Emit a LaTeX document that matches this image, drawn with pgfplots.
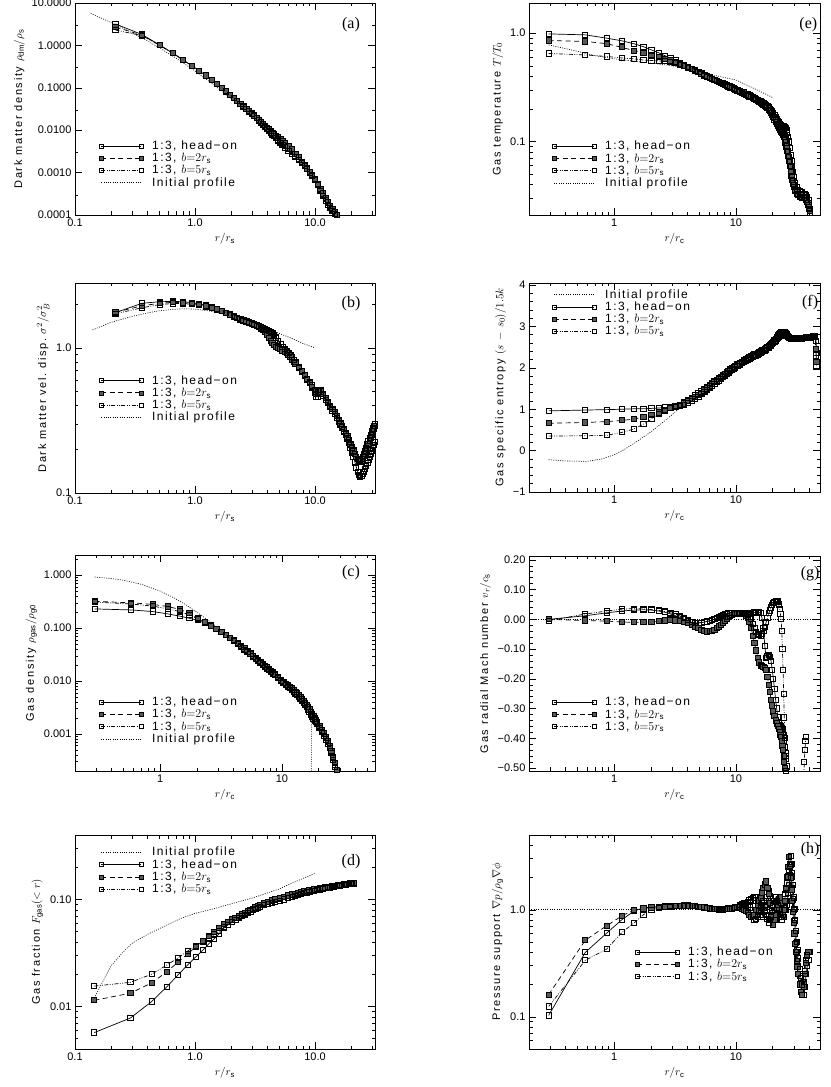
\documentclass[border=0pt]{standalone}
\usepackage{fontspec}
\setmainfont{Liberation Sans}
\newfontfamily\labfam{Liberation Sans}[LetterSpace=15]
\newfontfamily\legfam{Liberation Sans}[LetterSpace=12]
\newfontfamily\serfam{Liberation Serif}
\usepackage{pgfplots}
\usepackage{pgfplotstable}
\pgfplotsset{compat=1.18}
\newcommand\tickfont{\fontsize{11}{13}\selectfont}
\newcommand\labfont{\labfam\fontsize{11}{13}\selectfont}
\newcommand\legfont{\legfam\fontsize{12}{14}\selectfont}
\newcommand\panfont{\serfam\fontsize{16}{19}\selectfont}

\pgfplotsset{
 every axis/.append style={scale only axis, anchor=south west, tick align=inside, tick pos=both,
   major tick length=7pt, minor tick length=3.5pt,
   tick style={black, line width=0.5pt}, axis line style={line width=0.6pt},
   tick label style={font=\tickfont}, label style={font=\labfont},
   unbounded coords=jump},
 every axis legend/.append style={draw=none, fill=none, font=\legfont, anchor=north west, row sep=-1.8pt, column sep=7pt, inner sep=0pt},
 legend cell align=left,
 legend image code/.code={\draw[mark repeat=1,mark phase=1,#1,mark size=2pt,every mark/.append style={line width=0.6pt}] plot coordinates {(0pt,0pt) (40pt,0pt)};},
 myleftx/.style={xmin=0.1, xmax=31.6, xtick={0.1,1,10}, xticklabels={0.1,1.0,10.0},
   minor xtick={0.2,0.3,0.4,0.5,0.6,0.7,0.8,0.9,2,3,4,5,6,7,8,9,20,30}, xlabel={$r/r_{\mathrm{s}}$}},
 myrightx/.style={xmin=0.2, xmax=49, xtick={1,10}, xticklabels={1,10},
   minor xtick={0.3,0.4,0.5,0.6,0.7,0.8,0.9,2,3,4,5,6,7,8,9,20,30,40}, xlabel={$r/r_{\mathrm{c}}$}},
 myho/.style={black, line width=0.7pt, solid, mark=square, mark size=2.6pt, mark options={solid, line width=1pt}},
 mybtwo/.style={myho, dash pattern=on 5pt off 3.5pt, mark=square*, mark options={solid, line width=1pt, fill=black!65, draw=black}},
 mybfive/.style={myho, dash pattern=on 4pt off 1.5pt on 0.8pt off 1.5pt on 0.8pt off 1.5pt, mark options={solid, line width=1pt, draw=black}},
 myini/.style={black, line width=0.6pt, dash pattern=on 1pt off 1.3pt, mark=none},
}

\pgfplotstableread{
r ho b2 b5
0.2175 3.2 2.7 2.3
0.3625 1.80 1.75 1.70
0.5075 1.02 1.01 1.00
0.6525 0.66 0.66 0.65
0.7975 0.45 0.45 0.45
0.9425 0.33 0.33 0.33
1.0875 0.25 0.25 0.25
1.2325 0.195 0.195 0.195
1.3775 0.155 0.155 0.155
1.5225 0.125 0.125 0.124
1.6675 0.101 0.101 0.100
1.8125 0.083 0.083 0.082
1.9575 0.069 0.069 0.068
2.1025 0.058 0.058 0.057
2.2475 0.049 0.049 0.048
2.3925 0.042 0.042 0.041
2.5375 0.037 0.037 0.036
2.6825 0.032 0.032 0.031
2.8275 0.028 0.028 0.0275
2.9725 0.025 0.025 0.0245
3.1175 0.022 0.0222 0.0216
3.2625 0.0195 0.0197 0.019
3.4075 0.0174 0.0177 0.0170
3.5525 0.0155 0.0158 0.0152
3.6975 0.0139 0.0142 0.0136
3.8425 0.0124 0.0127 0.0121
3.9875 0.0112 0.0115 0.0108
4.1325 0.0100 0.0104 0.0097
4.2775 0.0091 0.0095 0.0088
4.4225 0.0082 0.0087 0.0079
4.5675 0.0075 0.0080 0.0072
4.7125 0.0068 0.0074 0.0065
4.93 0.0060 0.0067 0.0057
5.1475 0.0053 0.0060 0.0050
5.365 0.0048 0.0055 0.0044
5.5825 0.0043 0.0050 0.0039
6.0175 0.0036 0.0042 0.0032
6.4525 0.0030 0.0035 0.0027
6.8875 0.0025 0.0028 0.0023
7.3225 0.0021 0.0023 0.0020
7.7575 0.0017 0.0018 0.00165
8.1925 0.00145 0.0015 0.0014
8.6275 0.00122 0.00125 0.0012
9.0625 0.00102 0.00105 0.0010
9.4975 0.00085 0.00088 0.00083
9.9325 0.00070 0.00072 0.00068
10.51 0.00052 0.00055 0.00050
11.09 0.00039 0.00041 0.00037
11.67 0.00030 0.00032 0.00028
12.25 0.00024 0.00025 0.00022
12.83 0.00019 0.00020 0.000175
13.41 0.000158 0.000165 0.000145
13.99 0.000132 0.000138 0.000122
14.57 0.000112 0.000117 0.000104
15.15 0.000095 0.000100 0.000088
15.73 0.000080 0.000085 0.000075
}\tabA

\pgfplotstableread{
r ho b2 b5
0.2175 1.75 1.76 1.72
0.3625 2.03 1.95 1.89
0.5075 2.08 2.03 1.99
0.6525 2.09 2.06 2.02
0.7975 2.08 2.05 2.02
0.9425 2.05 2.03 2.00
1.0875 2.01 2.00 1.97
1.2325 1.96 1.95 1.93
1.3775 1.91 1.90 1.89
1.5225 1.86 1.85 1.84
1.6675 1.80 1.80 1.79
1.8125 1.75 1.75 1.74
1.9575 1.70 1.70 1.69
2.1025 1.65 1.65 1.64
2.2475 1.61 1.61 1.60
2.3925 1.58 1.58 1.57
2.5375 1.55 1.55 1.54
2.6825 1.53 1.52 1.51
2.8275 1.50 1.49 1.48
2.9725 1.48 1.46 1.46
3.1175 1.45 1.43 1.44
3.2625 1.43 1.41 1.42
3.4075 1.41 1.39 1.40
3.5525 1.39 1.36 1.38
3.6975 1.37 1.32 1.36
3.8425 1.35 1.28 1.34
3.9875 1.33 1.22 1.32
4.1325 1.31 1.17 1.30
4.2775 1.28 1.12 1.28
4.4225 1.25 1.08 1.26
4.5675 1.21 1.05 1.22
4.7125 1.17 1.02 1.18
4.93 1.11 1.00 1.12
5.1475 1.06 0.98 1.07
5.365 1.01 0.96 1.02
5.5825 0.97 0.94 0.98
5.80 0.94 0.92 0.95
6.0175 0.91 0.89 0.92
6.235 0.88 0.86 0.89
6.4525 0.85 0.83 0.86
6.67 0.82 0.80 0.83
6.8875 0.79 0.78 0.80
7.3225 0.73 0.73 0.74
7.7575 0.68 0.69 0.69
8.1925 0.64 0.65 0.65
8.6275 0.60 0.61 0.61
9.0625 0.57 0.57 0.58
9.4975 0.53 0.54 0.55
9.9325 0.49 0.50 0.51
10.22 0.46 0.48 0.50
10.51 0.46 0.49 0.50
10.80 0.48 0.51 0.50
11.09 0.49 0.51 0.50
11.67 0.47 0.48 0.47
12.25 0.44 0.45 0.44
12.83 0.415 0.425 0.415
13.41 0.39 0.40 0.39
13.99 0.37 0.38 0.37
14.57 0.35 0.36 0.35
15.15 0.33 0.34 0.33
15.73 0.31 0.32 0.315
16.31 0.295 0.305 0.30
16.89 0.28 0.29 0.285
17.47 0.265 0.275 0.27
18.05 0.25 0.26 0.255
18.63 0.235 0.245 0.24
19.21 0.22 0.23 0.225
19.79 0.205 0.217 0.215
20.37 0.19 0.206 0.205
20.95 0.176 0.196 0.195
21.53 0.162 0.186 0.186
22.11 0.150 0.178 0.178
22.69 0.140 0.171 0.172
23.27 0.133 0.167 0.168
23.85 0.130 0.165 0.168
24.43 0.131 0.167 0.172
25.01 0.135 0.172 0.178
25.59 0.140 0.179 0.186
26.17 0.146 0.187 0.195
26.75 0.153 0.196 0.205
27.33 0.160 0.206 0.216
27.91 0.168 0.217 0.228
28.49 0.177 0.228 0.240
29.07 0.186 0.240 0.252
29.65 0.195 0.252 0.265
30.23 0.205 0.264 0.278
30.81 0.215 0.276 0.290
31.39 0.225 0.288 0.300
}\tabB

\pgfplotstableread{
r ho b2 b5
0.29 0.23 0.32 0.31
0.58 0.22 0.30 0.285
0.87 0.205 0.28 0.26
1.16 0.185 0.255 0.23
1.45 0.168 0.225 0.205
1.74 0.153 0.19 0.178
2.03 0.140 0.155 0.150
2.32 0.124 0.130 0.128
2.61 0.110 0.112 0.110
2.90 0.097 0.097 0.096
3.19 0.085 0.085 0.084
3.48 0.075 0.075 0.074
3.77 0.066 0.066 0.065
4.06 0.058 0.059 0.057
4.35 0.052 0.052 0.050
4.64 0.046 0.046 0.044
4.93 0.041 0.041 0.039
5.22 0.037 0.037 0.035
5.51 0.033 0.033 0.032
5.80 0.030 0.030 0.029
6.09 0.027 0.027 0.026
6.38 0.0245 0.025 0.024
6.67 0.0226 0.023 0.022
6.96 0.0208 0.021 0.020
7.25 0.0192 0.0195 0.0185
7.54 0.0178 0.018 0.017
7.83 0.0165 0.0167 0.0159
8.12 0.0153 0.0155 0.0148
8.41 0.0143 0.0145 0.0139
8.70 0.0134 0.0136 0.0130
9.28 0.0118 0.0120 0.0114
9.86 0.0103 0.0105 0.0100
10.30 0.0095 0.0097 0.0092
10.73 0.0087 0.0089 0.0085
11.17 0.0081 0.0083 0.0079
11.60 0.0075 0.0077 0.0073
12.03 0.0070 0.0072 0.0068
12.47 0.0065 0.0067 0.0063
12.90 0.0060 0.0062 0.0058
13.34 0.0056 0.0058 0.0054
13.78 0.0052 0.0054 0.0050
14.21 0.0048 0.0050 0.0046
14.65 0.0044 0.0046 0.0042
15.08 0.0040 0.0042 0.0039
15.52 0.0037 0.0038 0.0035
15.95 0.0034 0.0035 0.0032
16.38 0.0031 0.0032 0.0029
16.82 0.0028 0.0029 0.0026
17.26 0.0025 0.0026 0.0023
17.69 0.0023 0.0024 0.0021
18.13 0.0021 0.0022 0.0019
18.56 0.0019 0.0020 0.0018
19.00 0.00175 0.00184 0.00166
19.43 0.00160 0.00168 0.00152
20.30 0.00136 0.00142 0.00128
21.17 0.00116 0.00121 0.00109
22.04 0.00099 0.00103 0.00093
22.91 0.00084 0.00087 0.00079
23.78 0.00070 0.00073 0.00066
24.65 0.00058 0.00060 0.00054
25.52 0.00046 0.00048 0.00043
26.39 0.00035 0.00037 0.00032
27.26 0.00026 0.00028 0.00024
28.13 0.00019 0.00021 0.00017
29.00 0.00014 0.00015 0.00012
}\tabC

\pgfplotstableread{
r ho b2 b5
0.145 0.0057 0.0114 0.0155
0.29 0.0078 0.0133 0.0168
0.435 0.0111 0.0166 0.0200
0.58 0.0152 0.0210 0.0243
0.725 0.0198 0.0260 0.0285
0.87 0.0245 0.0310 0.0330
1.015 0.0290 0.0360 0.0370
1.16 0.0335 0.0410 0.0405
1.305 0.0385 0.0455 0.0440
1.45 0.0430 0.0500 0.0470
1.595 0.0480 0.0545 0.0505
1.74 0.0540 0.0590 0.0550
1.885 0.0580 0.0620 0.0580
2.03 0.0620 0.0650 0.0610
2.175 0.0650 0.0675 0.0640
2.32 0.0680 0.0700 0.0670
2.465 0.0710 0.0725 0.0695
2.61 0.0740 0.0750 0.0720
2.755 0.0765 0.0775 0.0745
2.90 0.0790 0.0800 0.0770
3.045 0.0815 0.0820 0.0790
3.19 0.0840 0.0840 0.0810
3.335 0.0860 0.0860 0.0830
3.48 0.0880 0.0880 0.0850
3.77 0.0910 0.0920 0.0880
4.06 0.0940 0.0950 0.0910
4.35 0.0970 0.0980 0.0930
4.64 0.1000 0.1010 0.0950
5.075 0.1020 0.1030 0.0970
5.51 0.1050 0.1060 0.1000
5.945 0.1080 0.1090 0.1030
6.38 0.1100 0.1110 0.1060
6.815 0.1120 0.1130 0.1080
7.25 0.1140 0.1150 0.1100
7.685 0.1160 0.1170 0.1120
8.12 0.1180 0.1190 0.1140
8.555 0.1190 0.1200 0.1160
8.99 0.1210 0.1220 0.1170
9.425 0.1220 0.1230 0.1190
9.86 0.1230 0.1240 0.1200
10.44 0.1250 0.1260 0.1220
11.02 0.1260 0.1270 0.1240
11.60 0.1280 0.1280 0.1250
12.18 0.1290 0.1290 0.1270
12.76 0.1300 0.1300 0.1280
13.34 0.1310 0.1310 0.1290
13.92 0.1320 0.1320 0.1310
14.50 0.1330 0.1330 0.1320
15.08 0.1340 0.1340 0.1330
15.66 0.1350 0.1350 0.1340
16.24 0.1360 0.1360 0.1350
16.82 0.1370 0.1370 0.1360
17.40 0.1380 0.1380 0.1370
17.98 0.1390 0.1390 0.1380
18.56 0.1390 0.1400 0.1390
19.14 0.1400 0.1400 0.1390
19.72 0.1400 0.1410 0.1400
20.30 0.1410 0.1410 0.1400
20.88 0.1410 0.1420 0.1410
}\tabD

\pgfplotstableread{
r ho b2 b5
0.29 0.985 0.855 0.65
0.58 0.965 0.84 0.63
0.87 0.90 0.80 0.61
1.16 0.85 0.74 0.59
1.45 0.80 0.69 0.58
1.74 0.75 0.66 0.565
2.03 0.70 0.62 0.56
2.32 0.66 0.60 0.555
2.61 0.62 0.58 0.55
2.90 0.59 0.56 0.54
3.19 0.56 0.54 0.53
3.48 0.53 0.52 0.51
3.77 0.51 0.50 0.495
4.06 0.49 0.485 0.48
4.35 0.47 0.47 0.465
4.64 0.455 0.455 0.45
4.93 0.44 0.44 0.435
5.22 0.425 0.425 0.42
5.51 0.41 0.41 0.405
5.80 0.40 0.40 0.395
6.09 0.39 0.39 0.385
6.38 0.38 0.38 0.375
6.67 0.372 0.372 0.367
6.96 0.365 0.365 0.36
7.25 0.357 0.357 0.352
7.54 0.35 0.35 0.345
7.83 0.344 0.344 0.338
8.12 0.338 0.338 0.332
8.41 0.332 0.332 0.326
8.70 0.327 0.327 0.32
8.99 0.322 0.322 0.315
9.28 0.317 0.317 0.31
9.57 0.312 0.312 0.305
9.86 0.307 0.307 0.30
10.30 0.301 0.301 0.294
10.73 0.295 0.295 0.288
11.17 0.289 0.289 0.282
11.60 0.283 0.283 0.277
12.03 0.277 0.277 0.271
12.47 0.272 0.272 0.266
12.90 0.267 0.267 0.261
13.34 0.262 0.262 0.256
13.78 0.257 0.257 0.251
14.21 0.252 0.252 0.246
14.65 0.247 0.247 0.241
15.08 0.243 0.243 0.237
15.52 0.238 0.238 0.232
15.95 0.234 0.234 0.228
16.38 0.229 0.229 0.223
16.82 0.225 0.225 0.219
17.26 0.220 0.220 0.214
17.69 0.216 0.215 0.209
18.13 0.211 0.209 0.203
18.56 0.206 0.203 0.197
19.00 0.201 0.197 0.191
19.43 0.195 0.190 0.184
19.87 0.189 0.183 0.176
20.30 0.182 0.175 0.168
20.74 0.175 0.166 0.160
21.17 0.168 0.158 0.152
21.61 0.161 0.150 0.145
22.04 0.155 0.143 0.138
22.48 0.150 0.137 0.133
22.91 0.145 0.132 0.128
23.35 0.142 0.128 0.124
23.78 0.140 0.125 0.120
24.22 0.139 0.122 0.115
24.65 0.138 0.118 0.110
25.09 0.136 0.112 0.104
25.52 0.134 0.105 0.098
25.96 0.128 0.098 0.090
26.39 0.120 0.090 0.082
26.83 0.110 0.081 0.074
27.26 0.100 0.072 0.066
27.70 0.087 0.065 0.059
28.13 0.075 0.058 0.053
28.57 0.066 0.052 0.048
29.00 0.058 0.047 0.044
29.44 0.052 0.043 0.041
29.87 0.047 0.040 0.038
30.74 0.041 0.036 0.035
31.61 0.038 0.034 0.033
32.48 0.036 0.033 0.032
33.35 0.035 0.032 0.031
34.22 0.034 0.032 0.031
35.09 0.034 0.031 0.030
35.96 0.033 0.031 0.030
36.83 0.033 0.031 0.030
37.70 0.032 0.030 0.029
38.57 0.031 0.029 0.028
39.44 0.029 0.027 0.026
39.88 0.027 0.025 0.024
40.31 0.024 0.023 0.022
}\tabE

\pgfplotstableread{
r ho b2 b5
0.29 0.96 0.66 0.35
0.58 0.98 0.68 0.36
0.87 0.99 0.70 0.37
1.16 1.00 0.73 0.44
1.45 1.01 0.76 0.52
1.74 1.01 0.81 0.64
2.03 1.02 0.86 0.76
2.32 1.03 0.92 0.88
2.61 1.04 0.99 0.96
2.90 1.06 1.04 1.02
3.19 1.08 1.07 1.05
3.48 1.11 1.10 1.08
3.77 1.16 1.14 1.11
4.06 1.22 1.19 1.15
4.35 1.27 1.24 1.20
4.64 1.33 1.30 1.25
4.93 1.38 1.35 1.30
5.22 1.43 1.40 1.36
5.51 1.48 1.45 1.41
5.80 1.53 1.50 1.46
6.09 1.58 1.55 1.51
6.38 1.63 1.60 1.56
6.67 1.67 1.65 1.61
6.96 1.71 1.69 1.65
7.25 1.75 1.73 1.69
7.54 1.78 1.76 1.73
7.83 1.82 1.80 1.77
8.12 1.86 1.84 1.81
8.41 1.90 1.88 1.85
8.70 1.93 1.91 1.88
8.99 1.96 1.94 1.92
9.28 1.99 1.97 1.95
9.57 2.02 2.00 1.98
9.86 2.05 2.03 2.01
10.30 2.09 2.07 2.05
10.73 2.12 2.10 2.08
11.17 2.15 2.13 2.11
11.60 2.18 2.16 2.14
12.03 2.21 2.19 2.17
12.47 2.23 2.21 2.19
12.90 2.26 2.24 2.22
13.34 2.28 2.26 2.24
13.78 2.30 2.28 2.26
14.21 2.32 2.30 2.28
14.65 2.34 2.32 2.30
15.08 2.36 2.34 2.32
15.52 2.38 2.36 2.34
15.95 2.40 2.38 2.36
16.38 2.42 2.40 2.38
16.82 2.44 2.42 2.40
17.26 2.46 2.44 2.42
17.69 2.48 2.46 2.44
18.13 2.50 2.49 2.47
18.56 2.52 2.51 2.49
19.00 2.55 2.54 2.52
19.43 2.57 2.56 2.54
19.87 2.60 2.59 2.57
20.30 2.63 2.62 2.60
20.74 2.66 2.65 2.63
21.17 2.70 2.69 2.66
21.61 2.74 2.73 2.69
22.04 2.78 2.76 2.72
22.48 2.81 2.79 2.75
22.91 2.84 2.82 2.77
23.35 2.86 2.84 2.79
23.78 2.87 2.86 2.80
24.22 2.87 2.87 2.81
24.65 2.86 2.87 2.81
25.09 2.84 2.86 2.81
25.52 2.82 2.84 2.80
25.96 2.80 2.82 2.78
26.39 2.77 2.79 2.76
26.83 2.75 2.77 2.74
27.26 2.73 2.75 2.72
28.13 2.71 2.72 2.70
29.00 2.70 2.71 2.69
29.87 2.70 2.70 2.69
30.74 2.71 2.70 2.69
31.61 2.71 2.71 2.70
32.48 2.72 2.71 2.70
33.35 2.72 2.72 2.71
34.22 2.72 2.72 2.71
35.09 2.73 2.72 2.71
35.96 2.73 2.73 2.72
36.83 2.73 2.73 2.72
37.70 2.74 2.73 2.72
38.57 2.74 2.74 2.73
39.44 2.74 2.74 2.73
40.31 2.75 2.74 2.73
41.18 2.75 2.74 2.73
42.05 2.75 2.75 2.74
42.92 2.76 2.75 2.74
43.79 2.76 2.75 2.74
44.66 2.76 2.76 2.75
45.53 2.65 2.45 2.30
45.82 2.35 2.15 2.02
}\tabF

\pgfplotstableread{
r ho b2 b5
0.29 0.000 0.000 -0.005
0.58 0.012 -0.004 0.018
0.87 0.022 -0.006 0.028
1.16 0.028 -0.009 0.034
1.45 0.031 -0.010 0.036
1.74 0.032 -0.010 0.035
2.03 0.031 -0.008 0.033
2.32 0.028 -0.006 0.030
2.61 0.024 -0.004 0.026
2.90 0.018 -0.003 0.022
3.19 0.012 -0.004 0.017
3.48 0.006 -0.006 0.011
3.77 0.000 -0.009 0.004
4.06 -0.006 -0.013 -0.003
4.35 -0.010 -0.018 -0.008
4.64 -0.012 -0.024 -0.011
4.93 -0.012 -0.030 -0.012
5.22 -0.011 -0.036 -0.011
5.51 -0.009 -0.040 -0.009
5.80 -0.007 -0.041 -0.007
6.09 -0.005 -0.040 -0.005
6.38 -0.002 -0.038 -0.002
6.67 0.001 -0.035 0.001
6.96 0.004 -0.030 0.004
7.25 0.008 -0.024 0.008
7.54 0.011 -0.018 0.011
7.83 0.014 -0.011 0.014
8.12 0.017 -0.004 0.017
8.41 0.019 0.002 0.019
8.70 0.021 0.008 0.021
8.99 0.022 0.012 0.022
9.28 0.022 0.015 0.022
9.57 0.022 0.017 0.022
9.86 0.021 0.018 0.021
10.30 0.020 0.019 0.021
10.73 0.019 0.019 0.020
11.17 0.018 0.018 0.020
11.60 0.018 0.017 0.020
12.03 0.018 0.012 0.018
12.47 0.019 0.005 0.015
12.90 0.020 -0.010 0.008
13.34 0.021 -0.030 0.000
13.78 0.022 -0.055 -0.015
14.21 0.024 -0.080 -0.030
14.65 0.025 -0.105 -0.042
15.08 0.025 -0.130 -0.050
15.52 0.023 -0.145 -0.054
15.95 0.020 -0.155 -0.055
16.38 0.005 -0.158 -0.050
16.82 -0.030 -0.160 -0.040
17.26 -0.090 -0.163 -0.025
17.69 -0.130 -0.170 -0.010
18.13 -0.125 -0.195 0.005
18.56 -0.120 -0.220 0.020
19.00 -0.128 -0.245 0.030
19.43 -0.140 -0.270 0.040
19.87 -0.170 -0.290 0.048
20.30 -0.200 -0.310 0.055
20.74 -0.235 -0.325 0.059
21.17 -0.270 -0.340 0.062
21.61 -0.300 -0.350 0.062
22.04 -0.330 -0.360 0.060
22.48 -0.345 -0.370 0.050
22.91 -0.355 -0.380 0.035
23.20 -0.358 -0.388 0.018
23.49 -0.360 -0.395 0.000
23.78 -0.365 -0.410 -0.040
24.07 -0.370 -0.425 -0.100
24.36 -0.380 -0.440 -0.170
24.65 -0.390 -0.460 -0.250
24.94 -0.410 -0.480 -0.330
25.23 -0.430 -0.500 -0.400
25.52 -0.450 -0.520 -0.460
25.81 -0.470 -0.560 -0.510
26.10 -0.495 -0.590 -0.560
26.39 -0.520 -0.620 -0.600
27.26 -0.600 nan -0.700
31.61 nan nan -0.900
35.09 nan nan -0.750
35.96 nan nan -0.560
36.40 nan nan -0.480
36.83 nan nan -0.440
37.26 nan nan -0.410
37.70 nan nan -0.395
}\tabG

\pgfplotstableread{
r ho b2 b5
0.29 0.103 0.161 0.125
0.58 0.40 0.52 0.337
0.87 0.606 0.71 0.43
1.16 0.81 0.88 0.615
1.45 0.97 0.99 0.75
1.74 1.04 1.03 0.90
2.03 1.06 1.05 1.00
2.32 1.07 1.06 1.04
2.61 1.08 1.07 1.06
2.90 1.08 1.08 1.07
3.19 1.09 1.08 1.08
3.48 1.09 1.09 1.08
3.77 1.10 1.09 1.09
4.06 1.10 1.09 1.09
4.35 1.09 1.09 1.08
4.64 1.08 1.08 1.08
4.93 1.07 1.07 1.07
5.22 1.06 1.06 1.06
5.51 1.05 1.05 1.05
5.80 1.04 1.04 1.04
6.09 1.03 1.03 1.03
6.38 1.02 1.02 1.02
6.67 1.015 1.015 1.01
6.96 1.01 1.01 1.01
7.25 1.01 1.01 1.005
7.54 1.01 1.01 1.00
7.83 1.015 1.01 1.005
8.12 1.02 1.01 1.01
8.41 1.025 1.015 1.015
8.70 1.03 1.02 1.02
8.99 1.035 1.025 1.025
9.28 1.04 1.03 1.03
9.57 1.045 1.035 1.035
9.86 1.05 1.04 1.04
10.30 1.06 1.05 1.07
10.73 1.08 1.05 1.10
11.17 1.10 1.02 1.13
11.60 1.12 1.00 1.15
12.03 1.15 0.97 1.13
12.47 1.18 0.95 1.10
12.90 1.22 0.90 1.05
13.34 1.25 0.85 1.00
13.78 1.28 0.87 0.90
14.21 1.30 0.90 0.80
14.65 1.22 1.00 0.82
15.08 1.15 1.10 0.85
15.52 1.05 1.20 0.97
15.95 0.95 1.30 1.10
16.38 0.90 1.45 1.15
16.82 0.85 1.60 1.20
17.26 0.97 1.72 1.05
17.69 1.10 1.84 0.90
18.13 1.30 1.60 0.82
18.56 1.50 1.40 0.75
19.00 1.35 1.15 0.80
19.43 1.20 0.90 0.85
19.87 1.05 0.80 0.97
20.30 0.90 0.72 1.10
20.74 0.85 0.80 1.20
21.17 0.80 0.90 1.30
21.61 0.87 1.05 1.20
22.04 0.95 1.20 1.10
22.48 1.02 1.25 1.00
22.91 1.10 1.30 0.90
23.35 1.15 1.15 0.85
23.78 1.20 1.00 0.80
24.22 1.15 0.92 0.90
24.65 1.10 0.85 1.00
25.09 1.05 1.00 1.20
25.52 1.00 1.20 1.40
25.96 1.10 1.55 1.60
26.39 1.20 2.00 1.80
26.83 1.45 2.50 2.05
27.26 1.70 3.10 2.30
27.70 2.10 2.50 2.70
28.13 2.60 2.00 3.20
28.57 2.05 1.55 2.70
29.00 1.60 1.20 2.20
29.44 1.25 0.95 1.70
29.87 1.00 0.75 1.30
30.30 0.78 0.60 1.02
30.74 0.60 0.48 0.80
31.17 0.49 0.40 0.63
31.61 0.40 0.33 0.50
32.05 0.35 0.29 0.42
32.48 0.30 0.25 0.35
33.35 0.24 0.20 0.28
34.22 0.20 0.17 0.23
35.09 0.17 0.16 0.20
35.96 0.16 0.19 0.21
36.83 0.19 0.25 0.27
37.70 0.25 0.32 0.34
38.57 0.30 0.37 0.38
39.44 0.34 0.40 nan
40.31 0.40 nan nan
}\tabH

\begin{document}
\begin{tikzpicture}
\useasboundingbox (0,0) rectangle (830pt,1087pt);

% (a)
\begin{axis}[xmode=log, ymode=log, myleftx, at={(75pt,872pt)}, width=300pt, height=212pt,
  ymin=0.0001, ymax=10, ytick={0.0001,0.001,0.01,0.1,1,10},
  yticklabels={0.0001,0.0010,0.0100,0.1000,1.0000,10.0000}, minor ytick={0.0003,0.003,0.03,0.3,3},
  ylabel={Dark matter density $\rho_{\mathrm{dm}}/\rho_{\mathrm{s}}$},
  legend style={at={(0.08,0.36)}}]
\addplot[myho] table[x=r,y=ho] {\tabA};
\addplot[mybtwo] table[x=r,y=b2] {\tabA};
\addplot[mybfive] table[x=r,y=b5] {\tabA};
\addplot[myini] coordinates {(0.135,5.75) (0.16,4.6) (0.2,3.47) (0.25,2.56) (0.3,1.97) (0.4,1.28) (0.5,0.889) (0.7,0.494) (1,0.25) (1.5,0.107) (2,0.0556) (3,0.0208) (4,0.01) (5,0.00556) (7,0.00223) (10,0.000826)};
\legend{1:3{,} head−on, 1:3{,} $b{=}2r_{\mathrm{s}}$, 1:3{,} $b{=}5r_{\mathrm{s}}$, Initial profile}
\node[font=\panfont] at (rel axis cs:0.92,0.896) {(a)};
\end{axis}

% (b)
\begin{axis}[xmode=log, ymode=log, myleftx, at={(75pt,594pt)}, width=300pt, height=210pt,
  ymin=0.1, ymax=2.8, ytick={0.1,1}, yticklabels={0.1,1.0},
  minor ytick={0.2,0.3,0.4,0.5,0.6,0.7,0.8,0.9,2},
  ylabel={Dark matter vel.\ disp.\ $\sigma^2/\sigma_B^2$},
  legend style={at={(0.08,0.57)}}]
\addplot[myho] table[x=r,y=ho] {\tabB};
\addplot[mybtwo] table[x=r,y=b2] {\tabB};
\addplot[mybfive] table[x=r,y=b5] {\tabB};
\addplot[myini] coordinates {(0.14,1.33) (0.2,1.5) (0.3,1.65) (0.4,1.74) (0.5,1.8) (0.65,1.84) (0.8,1.86) (1.0,1.85) (1.3,1.8) (1.6,1.74) (2.0,1.66) (2.5,1.58) (3,1.5) (4,1.37) (5,1.26) (6.3,1.17) (8,1.07) (10,1.0)};
\legend{1:3{,} head−on, 1:3{,} $b{=}2r_{\mathrm{s}}$, 1:3{,} $b{=}5r_{\mathrm{s}}$, Initial profile}
\node[font=\panfont] at (rel axis cs:0.92,0.903) {(b)};
\end{axis}

% (c)
\begin{axis}[xmode=log, ymode=log, at={(75pt,316pt)}, width=300pt, height=216pt,
  xmin=0.2, xmax=58, xtick={1,10}, xticklabels={1,10},
  minor xtick={0.3,0.4,0.5,0.6,0.7,0.8,0.9,2,3,4,5,6,7,8,9,20,30,40,50}, xlabel={$r/r_{\mathrm{c}}$},
  ymin=0.0002, ymax=2.4, ytick={0.001,0.01,0.1,1}, yticklabels={0.001,0.010,0.100,1.000},
  minor ytick={0.0003,0.0004,0.0005,0.0006,0.0007,0.0008,0.0009,0.002,0.003,0.004,0.005,0.006,0.007,0.008,0.009,0.02,0.03,0.04,0.05,0.06,0.07,0.08,0.09,0.2,0.3,0.4,0.5,0.6,0.7,0.8,0.9,2},
  ylabel={Gas density $\rho_{\mathrm{gas}}/\rho_{\mathrm{g0}}$},
  legend style={at={(0.08,0.352)}}]
\addplot[myho] table[x=r,y=ho] {\tabC};
\addplot[mybtwo] table[x=r,y=b2] {\tabC};
\addplot[mybfive] table[x=r,y=b5] {\tabC};
\addplot[myini] coordinates {(0.29,0.922) (0.4,0.862) (0.5,0.8) (0.7,0.671) (1,0.5) (1.3,0.372) (1.6,0.281) (2,0.2) (2.5,0.138) (3,0.1) (4,0.0588) (5,0.0385) (6,0.027) (8,0.0154) (10,0.0099) (13,0.0059) (15,0.0044) (17.5,0.00325) (17.5,0.0001)};
\legend{1:3{,} head−on, 1:3{,} $b{=}2r_{\mathrm{s}}$, 1:3{,} $b{=}5r_{\mathrm{s}}$, Initial profile}
\node[font=\panfont] at (rel axis cs:0.92,0.917) {(c)};
\end{axis}

% (d)
\begin{axis}[xmode=log, ymode=log, myleftx, at={(75pt,38pt)}, width=300pt, height=214pt,
  ymin=0.004, ymax=0.4, ytick={0.01,0.1}, yticklabels={0.01,0.10},
  minor ytick={0.005,0.006,0.007,0.008,0.009,0.02,0.03,0.04,0.05,0.06,0.07,0.08,0.09,0.2,0.3},
  ylabel={Gas fraction $F_{\mathrm{gas}}(<r)$},
  legend style={at={(0.08,0.953)}}]
\addplot[myini] coordinates {(0.145,0.012) (0.17,0.017) (0.2,0.024) (0.25,0.032) (0.3,0.039) (0.4,0.047) (0.5,0.053) (0.75,0.066) (1.0,0.074) (1.5,0.083) (2.0,0.091) (3,0.103) (5,0.125) (7,0.148) (10,0.175)};
\addplot[myho] table[x=r,y=ho] {\tabD};
\addplot[mybtwo] table[x=r,y=b2] {\tabD};
\addplot[mybfive] table[x=r,y=b5] {\tabD};
\legend{Initial profile, 1:3{,} head−on, 1:3{,} $b{=}2r_{\mathrm{s}}$, 1:3{,} $b{=}5r_{\mathrm{s}}$}
\node[font=\panfont] at (rel axis cs:0.92,0.875) {(d)};
\end{axis}

% (e)
\begin{axis}[xmode=log, ymode=log, myrightx, at={(529pt,872pt)}, width=291pt, height=212pt,
  ymin=0.021, ymax=1.9, ytick={0.1,1}, yticklabels={0.1,1.0},
  minor ytick={0.03,0.04,0.05,0.06,0.07,0.08,0.09,0.2,0.3,0.4,0.5,0.6,0.7,0.8,0.9},
  ylabel={Gas temperature $T/T_0$},
  legend style={at={(0.079,0.358)}}]
\addplot[myho] table[x=r,y=ho] {\tabE};
\addplot[mybtwo] table[x=r,y=b2] {\tabE};
\addplot[mybfive] table[x=r,y=b5] {\tabE};
\addplot[myini] coordinates {(0.29,0.78) (0.4,0.72) (0.5,0.68) (0.7,0.62) (1.0,0.58) (1.5,0.55) (2,0.53) (3,0.50) (4,0.47) (6,0.42) (8,0.39) (10,0.37) (14,0.31) (20,0.255)};
\legend{1:3{,} head−on, 1:3{,} $b{=}2r_{\mathrm{s}}$, 1:3{,} $b{=}5r_{\mathrm{s}}$, Initial profile}
\node[font=\panfont] at (rel axis cs:0.96,0.896) {(e)};
\end{axis}

% (f)
\begin{axis}[xmode=log, myrightx, at={(529pt,595pt)}, width=291pt, height=209pt,
  ymin=-1, ymax=4.05, ytick={-1,0,1,2,3,4}, yticklabels={−1,0,1,2,3,4}, minor y tick num=4,
  ylabel={Gas specific entropy $(s\,-\,s_0)/1.5k$},
  legend style={at={(0.079,0.98)}}]
\addplot[myini] coordinates {(0.29,-0.22) (0.4,-0.25) (0.6,-0.26) (0.8,-0.2) (1.0,-0.1) (1.2,0.02) (1.5,0.2) (2.0,0.45) (2.6,0.72) (3.0,0.87) (3.4,1.02) (4,1.15)};
\addplot[myho] table[x=r,y=ho] {\tabF};
\addplot[mybtwo] table[x=r,y=b2] {\tabF};
\addplot[mybfive] table[x=r,y=b5] {\tabF};
\legend{Initial profile, 1:3{,} head−on, 1:3{,} $b{=}2r_{\mathrm{s}}$, 1:3{,} $b{=}5r_{\mathrm{s}}$}
\node[font=\panfont] at (rel axis cs:0.966,0.904) {(f)};
\end{axis}

% (g)
\begin{axis}[xmode=log, myrightx, at={(529pt,316pt)}, width=291pt, height=215pt,
  ymin=-0.51, ymax=0.213, ytick={-0.5,-0.4,-0.3,-0.2,-0.1,0,0.1,0.2},
  yticklabels={−0.50,−0.40,−0.30,−0.20,−0.10,0.00,0.10,0.20}, minor y tick num=4,
  ylabel={Gas radial Mach number $v_r/c_{\mathrm{s}}$},
  legend style={at={(0.079,0.353)}}]
\addplot[myini, forget plot] coordinates {(0.2,0) (49,0)};
\addplot[myho] table[x=r,y=ho] {\tabG};
\addplot[mybtwo] table[x=r,y=b2] {\tabG};
\addplot[mybfive] table[x=r,y=b5] {\tabG};
\legend{1:3{,} head−on, 1:3{,} $b{=}2r_{\mathrm{s}}$, 1:3{,} $b{=}5r_{\mathrm{s}}$}
\node[font=\panfont] at (rel axis cs:0.966,0.92) {(g)};
\end{axis}

% (h)
\begin{axis}[xmode=log, ymode=log, myrightx, at={(529pt,38pt)}, width=291pt, height=214pt,
  ymin=0.05, ymax=5, ytick={0.1,1}, yticklabels={0.1,1.0},
  minor ytick={0.06,0.07,0.08,0.09,0.2,0.3,0.4,0.5,0.6,0.7,0.8,0.9,2,3,4},
  ylabel={Pressure support $\nabla p/\rho_{\mathrm{g}}\nabla\phi$},
  legend style={at={(0.364,0.486)}}]
\addplot[myini, forget plot] coordinates {(0.2,1) (49,1)};
\addplot[myho] table[x=r,y=ho] {\tabH};
\addplot[mybtwo] table[x=r,y=b2] {\tabH};
\addplot[mybfive] table[x=r,y=b5] {\tabH};
\legend{1:3{,} head−on, 1:3{,} $b{=}2r_{\mathrm{s}}$, 1:3{,} $b{=}5r_{\mathrm{s}}$}
\node[font=\panfont] at (rel axis cs:0.966,0.93) {(h)};
\end{axis}
\end{tikzpicture}
\end{document}
